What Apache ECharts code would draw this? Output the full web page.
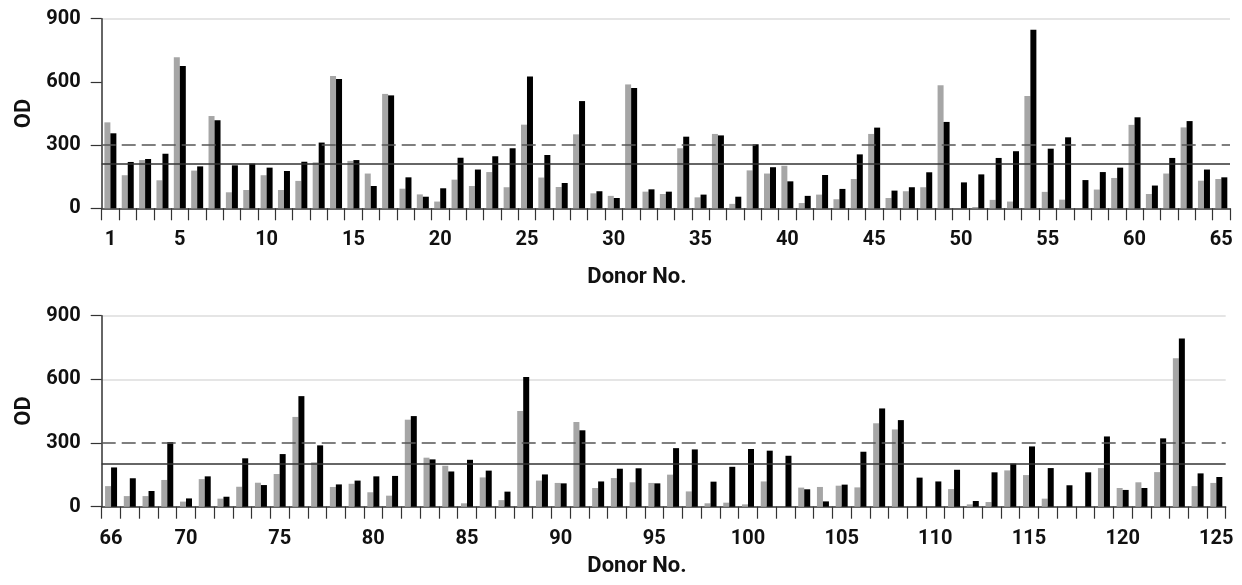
<!DOCTYPE html>
<html>
<head>
<meta charset="utf-8">
<script src="https://cdn.jsdelivr.net/npm/echarts@6/dist/echarts.min.js"></script>
<style>
html,body{margin:0;padding:0;background:#fff;}
#chart{width:1242px;height:585px;}
</style>
</head>
<body>
<div id="chart"></div>
<script>
// ---- Data ----
const topDonors = Array.from({length: 65}, (_, i) => String(i + 1));
const bottomDonors = Array.from({length: 60}, (_, i) => String(i + 66));

const topGray = [408,157,229,133,717,179,438,76,87,157,87,130,218,628,225,165,543,93,66,32,136,106,172,100,397,146,101,351,71,59,588,79,68,285,52,353,21,180,165,202,25,65,43,139,353,49,81,100,584,0,6,40,32,533,78,41,0,89,144,396,68,165,384,131,139];
const topBlack = [356,220,234,259,675,199,418,204,212,193,177,221,312,614,229,106,536,147,55,95,240,184,247,285,626,253,120,509,81,49,571,90,79,340,65,346,55,304,195,128,59,158,92,256,383,84,100,171,410,123,161,239,271,848,283,337,134,172,193,432,108,239,414,184,147];

const bottomGray = [97,50,50,126,24,130,38,94,113,154,423,209,93,108,68,52,410,231,193,16,138,31,451,123,112,399,88,135,115,112,151,72,16,19,11,119,0,90,93,99,91,393,364,0,0,83,11,22,171,149,38,0,0,182,88,115,163,700,97,112];
const bottomBlack = [185,134,74,305,39,143,47,228,102,248,521,289,105,123,143,145,427,223,166,221,170,71,611,152,110,360,119,179,181,110,276,270,118,188,272,264,240,82,25,104,259,463,408,137,119,174,27,162,203,284,182,101,162,331,79,88,322,793,157,140];

const yTicks = [0, 300, 600, 900];
const dashedCutoff = 300;
const topSolidCutoff = 210;
const bottomSolidCutoff = 203;

// ---- Styles ----
const FONT = 'Roboto';
const WEIGHT = 'bold';
const GRAY = '#a6a6a6';
const BLACK = '#000000';
const AXIS = '#333333';

function showLabel(idx, val) {
  const n = Number(val);
  return idx === 0 || n % 5 === 0;
}

function xAxisCfg(gridIndex, cats) {
  return {
    type: 'category', gridIndex: gridIndex, data: cats,
    axisLine: {show: true, lineStyle: {color: AXIS, width: 1.5}},
    axisTick: {show: true, length: 12, interval: 0, alignWithLabel: false, lineStyle: {color: AXIS, width: 1.2}},
    axisLabel: {interval: showLabel, margin: 22, fontFamily: FONT, fontWeight: WEIGHT, fontSize: 20, color: '#111'},
    splitLine: {show: false}
  };
}
function yAxisCfg(gridIndex, splitColors) {
  return {
    type: 'value', gridIndex: gridIndex, min: 0, max: 900, interval: 300,
    axisLine: {show: true, lineStyle: {color: AXIS, width: 1.5}},
    axisTick: {show: true, length: 11, lineStyle: {color: AXIS, width: 1.2}},
    axisLabel: {margin: 21, fontFamily: FONT, fontWeight: WEIGHT, fontSize: 20, color: '#111',
      formatter: v => yTicks.indexOf(v) >= 0 ? String(v) : ''},
    splitLine: {show: true, lineStyle: {color: splitColors, width: 1.5}}
  };
}
function cutoffLines(solid) {
  return {
    silent: true, symbol: 'none', label: {show: false},
    data: [
      {yAxis: dashedCutoff, lineStyle: {color: '#555', width: 1.5, type: [14, 6]}},
      {yAxis: solid, lineStyle: {color: '#333', width: 1.5, type: 'solid'}}
    ]
  };
}
function bar(name, data, color, idx, extra) {
  return Object.assign({
    name: name, type: 'bar', data: data, xAxisIndex: idx, yAxisIndex: idx,
    barWidth: 6, barGap: '0%', itemStyle: {color: color}, silent: true, animation: false
  }, extra || {});
}

const titleStyle = {fontFamily: FONT, fontWeight: WEIGHT, fontSize: 22, fill: '#111', align: 'center', verticalAlign: 'middle'};

const chart = echarts.init(document.getElementById('chart'), null, {renderer: 'canvas'});
chart.setOption({
  backgroundColor: '#fff',
  animation: false,
  grid: [
    {left: 101.7, right: 12, top: 18.7, height: 189.6},
    {left: 101.7, right: 16.3, top: 315.7, height: 191}
  ],
  xAxis: [xAxisCfg(0, topDonors), xAxisCfg(1, bottomDonors)],
  yAxis: [
    yAxisCfg(0, ['transparent', 'transparent', 'transparent', '#dcdcdc']),
    yAxisCfg(1, ['transparent', 'transparent', '#dcdcdc', '#dcdcdc'])
  ],
  series: [
    bar('Gray', topGray, GRAY, 0),
    bar('Black', topBlack, BLACK, 0, {markLine: cutoffLines(topSolidCutoff)}),
    bar('Gray', bottomGray, GRAY, 1),
    bar('Black', bottomBlack, BLACK, 1, {markLine: cutoffLines(bottomSolidCutoff)})
  ],
  graphic: [
    {type: 'text', x: 24.5, y: 113.5, rotation: Math.PI / 2, style: Object.assign({text: 'OD'}, titleStyle)},
    {type: 'text', x: 24.5, y: 411, rotation: Math.PI / 2, style: Object.assign({text: 'OD'}, titleStyle)},
    {type: 'text', x: 637, y: 277, style: Object.assign({text: 'Donor No.'}, titleStyle)},
    {type: 'text', x: 637, y: 566, style: Object.assign({text: 'Donor No.'}, titleStyle)}
  ]
});
</script>
</body>
</html>
